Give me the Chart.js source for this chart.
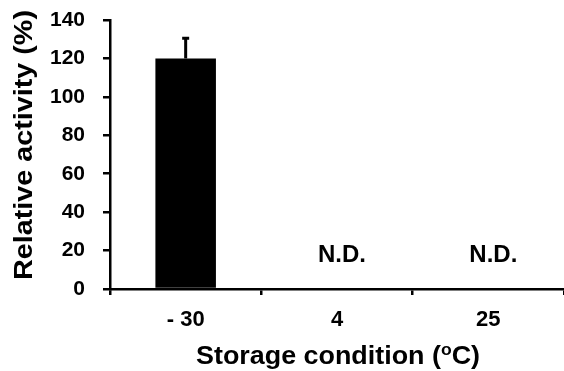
<!DOCTYPE html>
<html><head><meta charset="utf-8">
<script src="https://cdn.jsdelivr.net/npm/chart.js@4/dist/chart.umd.min.js"></script>
<style>html,body{margin:0;padding:0;background:#fff;} canvas{display:block;}</style>
</head><body>
<canvas id="c" width="564" height="371"></canvas>
<script>
// ---- data ----
const categories = ['- 30', '4', '25'];
const activity = [120, null, null];
const errorUp = [10.5, null, null];
const notes = [null, 'N.D.', 'N.D.'];
const yTicks = [0, 20, 40, 60, 80, 100, 120, 140];
const yTitle = 'Relative activity (%)';
const xTitleMain = 'Storage condition (';
const xTitleSup = 'o';
const xTitleEnd = 'C)';

const FAM = 'Liberation Sans';
const FONT = '"Liberation Sans", Arial, sans-serif';

const overlay = {
  id: 'overlay',
  afterDatasetsDraw(chart) {
    const ctx = chart.ctx, x = chart.scales.x, y = chart.scales.y;
    ctx.save();
    ctx.fillStyle = '#000';
    activity.forEach((v, i) => {
      if (v == null || errorUp[i] == null) return;
      const cx = x.getPixelForValue(i);
      const yTop = y.getPixelForValue(v + errorUp[i]);
      const yBar = y.getPixelForValue(v);
      ctx.fillRect(cx - 1.5, yTop, 3, yBar - yTop);
      ctx.fillRect(cx - 3.5, yTop - 1.5, 7, 3);
    });
    ctx.font = 'bold 24px ' + FONT;
    ctx.textAlign = 'center';
    ctx.textBaseline = 'alphabetic';
    notes.forEach((t, i) => {
      if (!t) return;
      ctx.fillText(t, x.getPixelForValue(i) + 5, y.getPixelForValue(0) - 27);
    });
    ctx.restore();

    ctx.save();
    ctx.fillStyle = '#000';
    ctx.font = 'bold 26px ' + FONT;
    const yw = ctx.measureText(yTitle).width;
    ctx.translate(32, 145);
    ctx.rotate(-Math.PI / 2);
    ctx.scale(270 / yw, 1);
    ctx.textAlign = 'center';
    ctx.textBaseline = 'alphabetic';
    ctx.fillText(yTitle, 0, 0);
    ctx.restore();

    ctx.save();
    ctx.fillStyle = '#000';
    ctx.textAlign = 'left';
    ctx.textBaseline = 'alphabetic';
    const mainF = 'bold 26px ' + FONT, supF = 'bold 17px ' + FONT;
    ctx.font = mainF; const w1 = ctx.measureText(xTitleMain).width; const w3 = ctx.measureText(xTitleEnd).width;
    ctx.font = supF; const w2 = ctx.measureText(xTitleSup).width;
    const tw = w1 + w2 + w3;
    const sx = 284 / tw;
    ctx.translate(338 - 142, 364);
    ctx.scale(sx, 1);
    ctx.font = mainF; ctx.fillText(xTitleMain, 0, 0);
    ctx.font = supF; ctx.fillText(xTitleSup, w1, -9);
    ctx.font = mainF; ctx.fillText(xTitleEnd, w1 + w2, 0);
    ctx.restore();
  }
};

new Chart(document.getElementById('c'), {
  type: 'bar',
  data: {
    labels: categories,
    datasets: [{
      data: activity,
      backgroundColor: '#000',
      borderWidth: 0,
      barPercentage: 0.4,
      categoryPercentage: 1
    }]
  },
  options: {
    responsive: false,
    animation: false,
    devicePixelRatio: 1,
    layout: { padding: { top: 20, right: 0, left: 0, bottom: 0 } },
    plugins: { legend: { display: false }, tooltip: { enabled: false } },
    scales: {
      x: {
        afterFit(s) { s.height = 82; s.paddingLeft = 0; s.paddingRight = 0; },
        grid: { offset: true, drawOnChartArea: false, tickLength: 6, tickColor: '#000', lineWidth: 2.5 },
        border: { color: '#000', width: 2.5 },
        ticks: { color: '#000', font: { family: FAM, size: 22, weight: 'bold' }, padding: 12, maxRotation: 0 }
      },
      y: {
        min: 0, max: 140,
        afterFit(s) { s.width = 110; s.paddingTop = 0; s.paddingBottom = 0; },
        afterBuildTicks(s) { s.ticks = yTicks.map(v => ({ value: v })); },
        grid: { drawOnChartArea: false, tickLength: 7, tickColor: '#000', lineWidth: 2.5 },
        border: { color: '#000', width: 2.5 },
        ticks: { color: '#000', font: { family: FAM, size: 21, weight: 'bold' }, padding: 18 }
      }
    }
  },
  plugins: [overlay]
});
</script>
</body></html>
